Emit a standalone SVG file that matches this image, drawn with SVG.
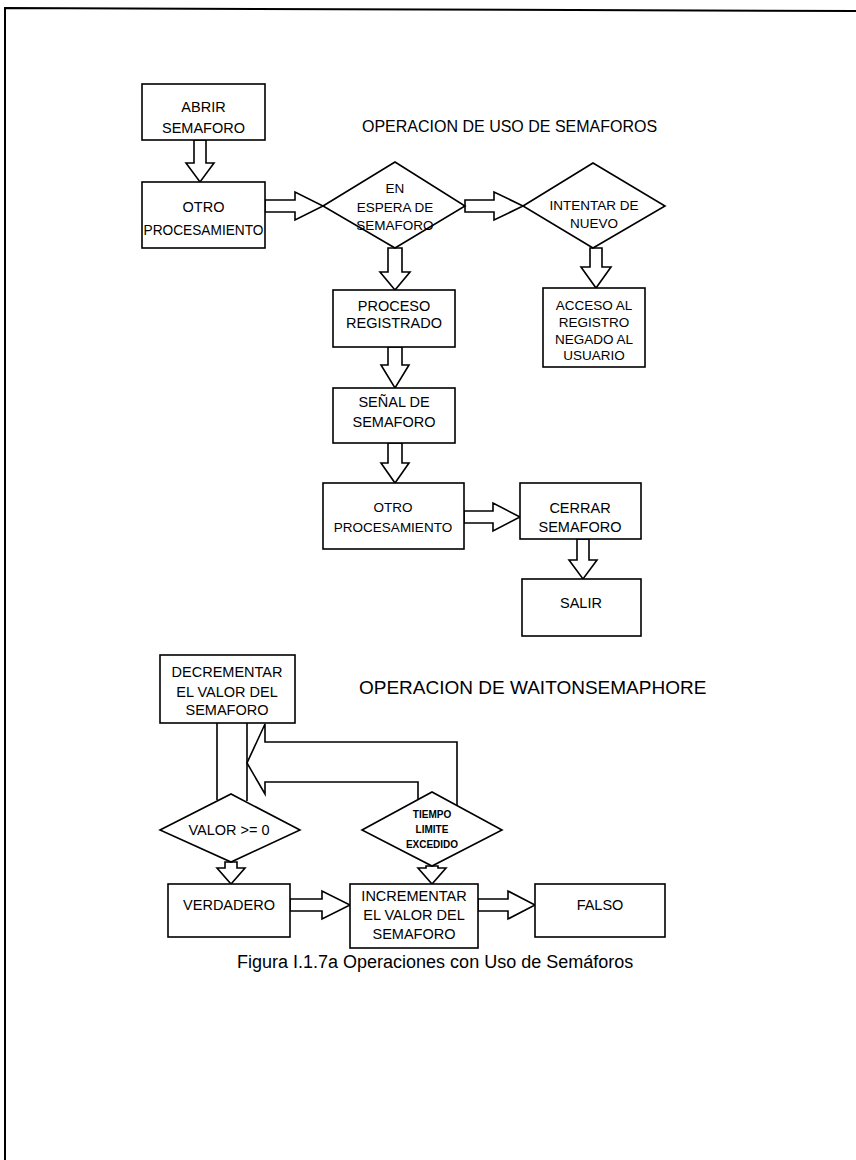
<svg xmlns="http://www.w3.org/2000/svg" width="856" height="1160" viewBox="0 0 856 1160">
<style>
.box{fill:#fff;stroke:#000;stroke-width:1.6}
.arr{fill:#fff;stroke:#000;stroke-width:1.6;stroke-linejoin:miter}
.ln{fill:none;stroke:#000;stroke-width:1.6}
.t{font-family:"Liberation Sans",Arial,sans-serif;font-size:14.5px;fill:#000;text-anchor:middle}
.ts{font-family:"Liberation Sans",Arial,sans-serif;font-size:13.5px;fill:#000;text-anchor:middle}
.tx{font-family:"Liberation Sans",Arial,sans-serif;font-size:10px;font-weight:bold;fill:#000;text-anchor:middle}
.title{font-family:"Liberation Sans",Arial,sans-serif;font-size:16px;fill:#000}
</style>
<rect x="0" y="0" width="856" height="1160" fill="#fff"/>
<path d="M5,1160 L5,8 L856,11" fill="none" stroke="#000" stroke-width="2"/>

<text class="title" x="362" y="132">OPERACION DE USO DE SEMAFOROS</text>
<text class="title" x="359" y="694" style="font-size:19px">OPERACION DE WAITONSEMAPHORE</text>

<g id="connectors">
<polygon class="arr" points="194,140 206,140 206,163 214,163 200,182 186,163 194,163"/>
<polygon class="arr" points="265,200 295,200 295,192 323,206 295,220 295,212 265,212"/>
<polygon class="arr" points="465,200 494,200 494,192 523,206 494,220 494,212 465,212"/>
<polygon class="arr" points="388,248 402,248 402,272 410,272 395,290 380,272 388,272"/>
<polygon class="arr" points="590,248 602,248 602,267 611,267 596,288 581,267 590,267"/>
<polygon class="arr" points="388,347 402,347 402,365 409,365 395,388 381,365 388,365"/>
<polygon class="arr" points="388,443 402,443 402,463 409,463 395,483 381,463 388,463"/>
<polygon class="arr" points="464,511 493,511 493,503 520,517 493,531 493,523 464,523"/>
<polygon class="arr" points="577,539 589,539 589,560 597,560 583,579 569,560 577,560"/>
<path class="ln" d="M217,723 L217,800 M247,723 L247,801"/>
<path class="arr" d="M418,800 L418,782 L265,782 L265,794 L247,763 L265,724 L265,742 L457,742 L457,806"/>
<polygon class="arr" points="225,862 237,862 237,868 245,868 231,884 217,868 225,868"/>
<polygon class="arr" points="426,866 438,866 438,868 446,868 432,884 418,868 426,868"/>
<polygon class="arr" points="290,899 322,899 322,891 350,905 322,919 322,911 290,911"/>
<polygon class="arr" points="478,899 508,899 508,891 535,905 508,919 508,911 478,911"/>
</g>

<g id="abrir"><rect class="box" x="142" y="84" width="123" height="56"/>
<text class="t" x="203.5" y="112">ABRIR</text><text class="t" x="203.5" y="133">SEMAFORO</text></g>
<g id="otro1"><rect class="box" x="142" y="182" width="123" height="66"/>
<text class="t" x="203.5" y="212">OTRO</text><text class="t" x="203.5" y="235" textLength="120" lengthAdjust="spacingAndGlyphs">PROCESAMIENTO</text></g>
<g id="espera"><polygon class="box" points="323,206 395,162 465,206 395,248"/>
<text class="ts" x="395" y="193">EN</text><text class="ts" x="395" y="212">ESPERA DE</text><text class="ts" x="395" y="230">SEMAFORO</text></g>
<g id="intentar"><polygon class="box" points="523,206 593,163 665,206 593,248"/>
<text class="ts" x="594" y="210">INTENTAR DE</text><text class="ts" x="594" y="228">NUEVO</text></g>
<g id="acceso"><rect class="box" x="543" y="288" width="102" height="79"/>
<text class="ts" x="594" y="310">ACCESO AL</text><text class="ts" x="594" y="327">REGISTRO</text><text class="ts" x="594" y="344">NEGADO AL</text><text class="ts" x="594" y="360">USUARIO</text></g>
<g id="proceso"><rect class="box" x="333" y="290" width="122" height="57"/>
<text class="t" x="394" y="311">PROCESO</text><text class="t" x="394" y="328">REGISTRADO</text></g>
<g id="senal"><rect class="box" x="333" y="388" width="122" height="55"/>
<text class="t" x="394" y="407">SEÑAL DE</text><text class="t" x="394" y="427">SEMAFORO</text></g>
<g id="otro2"><rect class="box" x="323" y="483" width="141" height="66"/>
<text class="ts" x="393" y="512">OTRO</text><text class="ts" x="393" y="532">PROCESAMIENTO</text></g>
<g id="cerrar"><rect class="box" x="520" y="483" width="121" height="56"/>
<text class="t" x="580" y="513">CERRAR</text><text class="t" x="580" y="532">SEMAFORO</text></g>
<g id="salir"><rect class="box" x="522" y="579" width="119" height="57"/>
<text class="t" x="581" y="608">SALIR</text></g>

<g id="decrementar"><rect class="box" x="160" y="655" width="135" height="68"/>
<text class="t" x="227" y="677">DECREMENTAR</text><text class="t" x="227" y="697">EL VALOR DEL</text><text class="t" x="227" y="715">SEMAFORO</text></g>
<g id="valor"><polygon class="box" points="160,830 231,794 300,830 231,862"/>
<text class="t" x="229" y="835">VALOR &gt;= 0</text></g>
<g id="tiempo"><polygon class="box" points="362,830 432,792 502,830 432,866"/>
<text class="tx" x="432" y="818">TIEMPO</text><text class="tx" x="432" y="833">LIMITE</text><text class="tx" x="432" y="848">EXCEDIDO</text></g>
<g id="verdadero"><rect class="box" x="168" y="884" width="122" height="53"/>
<text class="t" x="229" y="910">VERDADERO</text></g>
<g id="incrementar"><rect class="box" x="350" y="884" width="128" height="64"/>
<text class="t" x="414" y="901">INCREMENTAR</text><text class="t" x="414" y="920">EL VALOR DEL</text><text class="t" x="414" y="939">SEMAFORO</text></g>
<g id="falso"><rect class="box" x="535" y="884" width="130" height="53"/>
<text class="t" x="600" y="910">FALSO</text></g>

<text class="title" x="237" y="968" style="font-size:18px">Figura I.1.7a Operaciones con Uso de Semáforos</text>
</svg>
